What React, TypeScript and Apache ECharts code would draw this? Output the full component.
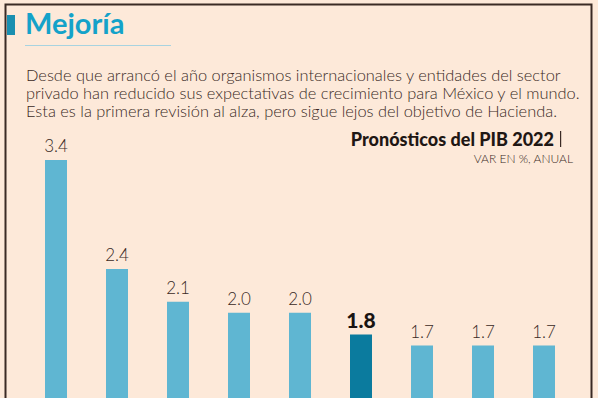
import React, { useEffect, useRef } from "react";
import * as echarts from "echarts";

const categories = ["A", "B", "C", "D", "E", "SHCP", "F", "G", "H"];
const values = [3.4, 2.4, 2.1, 2.0, 2.0, 1.8, 1.7, 1.7, 1.7];
const highlightIndex = 5;
const titleText = "Mejoría";
const bodyLines = [
  "Desde que arrancó el año organismos internacionales y entidades del sector",
  "privado han reducido sus expectativas de crecimiento para México y el mundo.",
  "Esta es la primera revisión al alza, pero sigue lejos del objetivo de Hacienda.",
];
const chartTitle = "Pronósticos del PIB 2022";
const chartSubtitle = "VAR EN %, ANUAL";

const BG = "#fde9d9";
const INK = "#3a2a25";
const LIGHT = "#5fb6d2";
const DARK = "#0b7b9e";
const FONT = "Lato, 'Open Sans', sans-serif";

export default function App() {
  const ref = useRef<HTMLDivElement>(null);
  useEffect(() => {
    const chart = echarts.init(ref.current!, undefined, { renderer: "svg" });
    chart.setOption({
      animation: false,
      backgroundColor: BG,
      grid: { left: 25.5, right: 23.5, top: 160, bottom: 0, containLabel: false },
      xAxis: {
        type: "category",
        data: categories,
        show: false,
      },
      yAxis: { type: "value", min: 0, max: 3.4, show: false },
      series: [
        {
          type: "bar",
          barWidth: 22,
          data: values.map((v, i) => ({
            value: v,
            itemStyle: { color: i === highlightIndex ? DARK : LIGHT },
            label:
              i === highlightIndex
                ? { fontSize: 21, fontWeight: 900, color: "#1a1412", distance: 5 }
                : undefined,
          })),
          label: {
            show: true,
            position: "top",
            distance: 6,
            formatter: (p: any) => p.value.toFixed(1),
            fontFamily: FONT,
            fontSize: 17,
            fontWeight: 300,
            color: INK,
          },
        },
      ],
      graphic: [
        {
          type: "rect",
          shape: { x: 5.5, y: 4.5, width: 586, height: 600 },
          style: { fill: "none", stroke: INK, lineWidth: 2 },
          z: 10,
        },
        {
          type: "rect",
          shape: { x: 7, y: 15, width: 8, height: 20 },
          style: { fill: "#1a8fb0" },
        },
        {
          type: "text",
          x: 25,
          y: 37,
          style: {
            text: titleText,
            fontFamily: FONT,
            fontWeight: "bold",
            fontSize: 29,
            fill: "#14a2c9",
            textVerticalAlign: "bottom",
          },
        },
        {
          type: "line",
          shape: { x1: 25, y1: 45.5, x2: 171, y2: 45.5 },
          style: { stroke: "#a8d3e0", lineWidth: 1 },
        },
        ...bodyLines.map((t, i) => ({
          type: "text",
          x: 26,
          y: 74 + i * 18,
          style: {
            text: t,
            fontFamily: FONT,
            fontWeight: 300,
            fontSize: 16.4,
            fill: INK,
            textVerticalAlign: "middle",
          },
        })),
        {
          type: "text",
          x: 554,
          y: 139,
          style: {
            text: chartTitle,
            fontFamily: FONT,
            fontWeight: 900,
            fontSize: 18,
            fill: "#1f1714",
            textAlign: "right",
            textVerticalAlign: "middle",
          },
        },
        {
          type: "rect",
          shape: { x: 560, y: 131, width: 1.2, height: 16 },
          style: { fill: INK },
        },
        {
          type: "text",
          x: 573,
          y: 158,
          style: {
            text: chartSubtitle,
            fontFamily: FONT,
            fontWeight: 300,
            fontSize: 12,
            fill: INK,
            textAlign: "right",
            textVerticalAlign: "middle",
          },
        },
      ],
    });
    return () => chart.dispose();
  }, []);
  return (
    <div
      style={{
        position: "fixed",
        left: 0,
        top: 0,
        width: 598,
        height: 398,
        overflow: "hidden",
      }}
    >
      <div ref={ref} style={{ width: 598, height: 531 }} />
    </div>
  );
}
